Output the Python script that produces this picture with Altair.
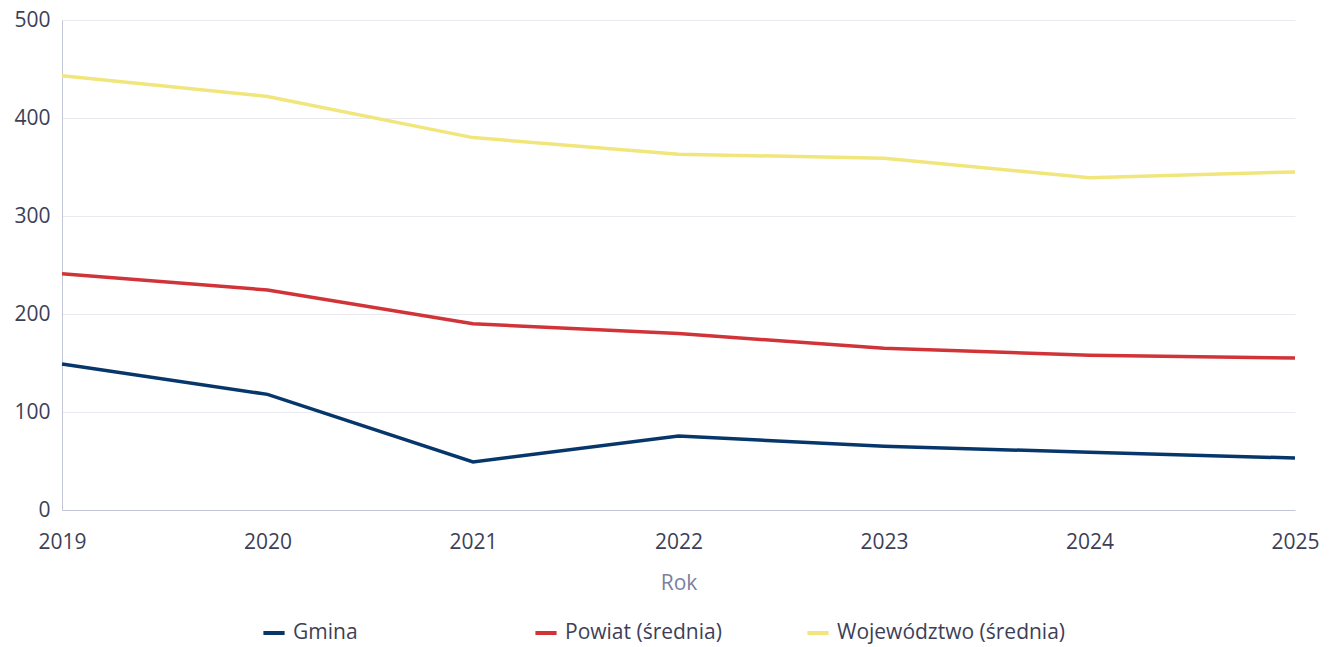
import altair as alt
import pandas as pd

years = [2019, 2020, 2021, 2022, 2023, 2024, 2025]
gmina = [149, 118, 49, 75.5, 65, 59, 53]
powiat = [241, 224.5, 190, 180, 165, 158, 155]
wojewodztwo = [443, 422, 380, 363, 359, 339, 345]

series = ["Gmina", "Powiat (średnia)", "Województwo (średnia)"]
colors = ["#07376a", "#d13438", "#f1e67c"]

rows = []
for name, vals in zip(series, [gmina, powiat, wojewodztwo]):
    for y, v in zip(years, vals):
        rows.append({"Rok": y, "Wartość": v, "Seria": name})
df = pd.DataFrame(rows)

FONT = "Open Sans"
TXT = "#3d3f58"

chart = alt.Chart(df).mark_line(strokeWidth=3.5).encode(
    x=alt.X("Rok:Q", scale=alt.Scale(domain=[2019, 2025], nice=False, zero=False),
            axis=alt.Axis(values=years, format="d", title="Rok", grid=False, ticks=False,
                          labelPadding=21, titlePadding=20, domainColor="#c3c6d6",
                          labelFlush=False)),
    y=alt.Y("Wartość:Q", scale=alt.Scale(domain=[0, 500]),
            axis=alt.Axis(values=[0, 100, 200, 300, 400, 500], title=None, ticks=False,
                          labelPadding=12, minExtent=54, domainColor="#c3c6d6",
                          gridColor="#e9e9ef")),
    color=alt.Color("Seria:N", scale=alt.Scale(domain=series, range=colors),
                    legend=alt.Legend(title=None, orient="none", direction="horizontal",
                                      legendX=199, legendY=600,
                                      symbolType="stroke", symbolSize=450, symbolStrokeWidth=4,
                                      labelOffset=6, gridAlign="all", columnPadding=5,
                                      labelLimit=500)),
).properties(width=1233, height=490,
             padding={"left": 0, "top": 1, "right": 0, "bottom": 4}).configure_axis(
    labelFont=FONT, labelFontSize=21, labelColor=TXT,
    titleFont=FONT, titleFontSize=21, titleColor="#7b7f9f", titleFontWeight="normal",
).configure_legend(
    labelFont=FONT, labelFontSize=21, labelColor=TXT,
).configure_view(stroke=None)

chart.save("out.html", embed_options={"renderer": "svg", "actions": False})
